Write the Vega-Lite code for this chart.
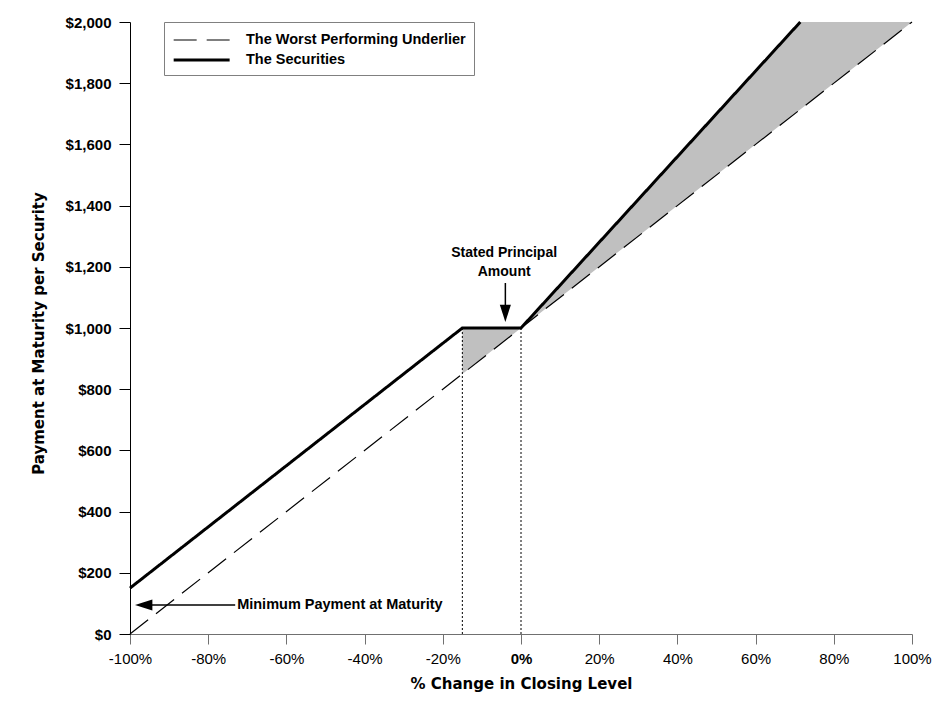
{
  "$schema": "https://vega.github.io/schema/vega-lite/v6.json",
  "description": "Payment at maturity per security versus % change in closing level of the worst performing underlier.",
  "width": 782,
  "height": 612,
  "autosize": "none",
  "padding": {"left": 130, "top": 22, "right": 23, "bottom": 74},
  "background": "white",
  "datasets": {
    "lines": [
      {"series": "The Worst Performing Underlier", "x": -100, "y": 0},
      {"series": "The Worst Performing Underlier", "x": 100, "y": 2000},
      {"series": "The Securities", "x": -100, "y": 150},
      {"series": "The Securities", "x": -15, "y": 1000},
      {"series": "The Securities", "x": 0, "y": 1000},
      {"series": "The Securities", "x": 71.43, "y": 2000}
    ],
    "shade": [
      {"x": -15, "y": 1000, "y2": 850},
      {"x": 0, "y": 1000, "y2": 1000},
      {"x": 71.43, "y": 2000, "y2": 1714.3},
      {"x": 100, "y": 2000, "y2": 2000}
    ],
    "guides": [
      {"x": -15, "y": 0, "y2": 1000},
      {"x": 0, "y": 0, "y2": 1000}
    ],
    "shafts": [
      {"x": -4, "x2": -4, "y": 1147, "y2": 1070},
      {"x": -95, "x2": -73.1, "y": 95, "y2": 95}
    ],
    "heads": [
      {"x": -4, "y": 1048, "dir": "down"},
      {"x": -96.5, "y": 95, "dir": "left"}
    ],
    "notesCenter": [
      {"x": -4.3, "y": 1245, "text": "Stated Principal"},
      {"x": -4.3, "y": 1183, "text": "Amount"}
    ],
    "notesLeft": [
      {"x": -72.6, "y": 95, "text": "Minimum Payment at Maturity"}
    ]
  },
  "encoding": {
    "x": {
      "field": "x",
      "type": "quantitative",
      "scale": {"domain": [-100, 100], "nice": false, "zero": false},
      "axis": {
        "values": [-100, -80, -60, -40, -20, 0, 20, 40, 60, 80, 100],
        "labelExpr": "datum.value + '%'",
        "labelFont": "Liberation Sans",
        "labelFontSize": 15,
        "labelColor": "black",
        "labelFontWeight": {"condition": {"test": "datum.value === 0", "value": "bold"}, "value": "normal"},
        "labelFlush": false,
        "labelOverlap": false,
        "labelPadding": 7,
        "tickSize": 10,
        "tickColor": "#707070",
        "domainColor": "#707070",
        "title": "% Change in Closing Level",
        "titleFont": "DejaVu Sans",
        "titleFontSize": 15,
        "titleFontWeight": "bold",
        "titleColor": "black",
        "titleBaseline": "middle",
        "titleY": 49
      }
    },
    "y": {
      "field": "y",
      "type": "quantitative",
      "scale": {"domain": [0, 2000], "nice": false},
      "axis": {
        "values": [0, 200, 400, 600, 800, 1000, 1200, 1400, 1600, 1800, 2000],
        "labelExpr": "'$' + format(datum.value, ',')",
        "labelFont": "Liberation Sans",
        "labelFontSize": 15,
        "labelFontWeight": "bold",
        "labelColor": "black",
        "labelFlush": false,
        "labelOverlap": false,
        "labelPadding": 8,
        "tickSize": 11,
        "tickColor": "black",
        "domainColor": "black",
        "title": "Payment at Maturity per Security",
        "titleFont": "DejaVu Sans",
        "titleFontSize": 15,
        "titleFontWeight": "bold",
        "titleColor": "black",
        "titleAlign": "center",
        "titleBaseline": "middle",
        "titleX": -92,
        "titleY": 311
      }
    }
  },
  "layer": [
    {
      "data": {"name": "shade"},
      "mark": {"type": "area", "color": "#c0c0c0", "opacity": 1},
      "encoding": {"y2": {"field": "y2"}}
    },
    {
      "data": {"name": "guides"},
      "mark": {"type": "rule", "color": "black", "strokeWidth": 1, "strokeDash": [2, 2]},
      "encoding": {"y2": {"field": "y2"}}
    },
    {
      "data": {"name": "lines"},
      "mark": {"type": "line", "color": "black"},
      "encoding": {
        "strokeDash": {
          "field": "series",
          "type": "nominal",
          "scale": {
            "domain": ["The Worst Performing Underlier", "The Securities"],
            "range": [[23, 10], [1, 0]]
          }
        },
        "strokeWidth": {
          "field": "series",
          "type": "nominal",
          "scale": {
            "domain": ["The Worst Performing Underlier", "The Securities"],
            "range": [1.2, 3]
          }
        }
      }
    },
    {
      "data": {"name": "shafts"},
      "mark": {"type": "rule", "color": "black", "strokeWidth": 1.5},
      "encoding": {"x2": {"field": "x2"}, "y2": {"field": "y2"}}
    },
    {
      "data": {"name": "heads"},
      "mark": {"type": "point", "filled": true, "color": "black", "opacity": 1, "size": 300},
      "encoding": {
        "shape": {
          "field": "dir",
          "type": "nominal",
          "scale": {
            "domain": ["down", "left"],
            "range": ["M-0.64,-1L0.64,-1L0,1Z", "M-1,0L1,-0.64L1,0.64Z"]
          },
          "legend": null
        }
      }
    },
    {
      "data": {"name": "notesCenter"},
      "mark": {"type": "text", "align": "center", "baseline": "middle", "font": "Liberation Sans", "fontSize": 14, "fontWeight": "bold", "color": "black"},
      "encoding": {"text": {"field": "text"}}
    },
    {
      "data": {"name": "notesLeft"},
      "mark": {"type": "text", "align": "left", "baseline": "middle", "font": "Liberation Sans", "fontSize": 14.5, "fontWeight": "bold", "color": "black"},
      "encoding": {"text": {"field": "text"}}
    }
  ],
  "config": {
    "view": {"stroke": null},
    "axis": {"grid": false},
    "legend": {
      "orient": "none",
      "legendX": 34,
      "legendY": 0,
      "title": null,
      "strokeColor": "#808080",
      "fillColor": "white",
      "padding": 8,
      "symbolType": "M-1,0L5,0",
      "symbolSize": 348,
      "symbolStrokeColor": "black",
      "labelOffset": 52,
      "labelLimit": 0,
      "labelFont": "Liberation Sans",
      "labelFontSize": 14.5,
      "labelFontWeight": "bold",
      "labelColor": "black",
      "rowPadding": 2
    }
  }
}
